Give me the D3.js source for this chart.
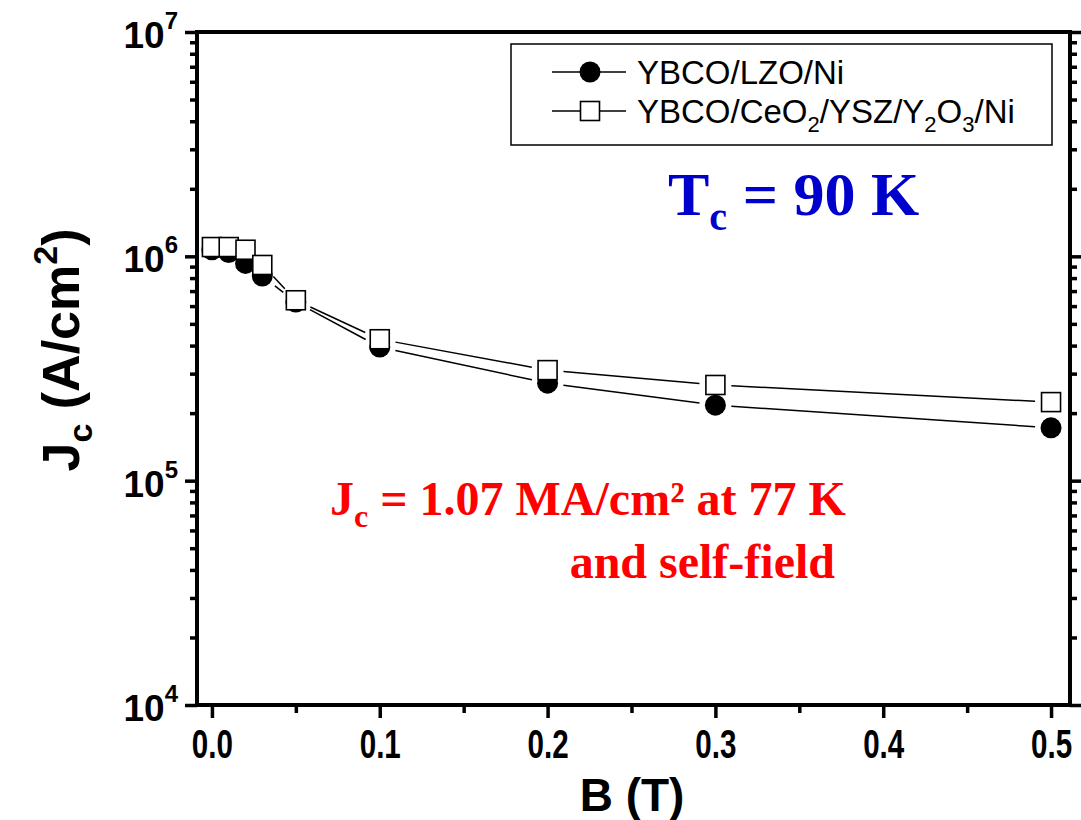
<!DOCTYPE html>
<html>
<head>
<meta charset="utf-8">
<script src="https://cdn.jsdelivr.net/npm/d3@7"></script>
<style>
  html, body { margin: 0; padding: 0; background: #fff; }
  svg { display: block; }
  .sans { font-family: "Liberation Sans", Arial, Helvetica, sans-serif; }
  .serif { font-family: "Liberation Serif", "Times New Roman", Times, serif; }
</style>
</head>
<body>
<svg id="chart" width="1081" height="820"></svg>
<script>
// Magnetic field (T)
const fieldB = [0, 0.01, 0.02, 0.03, 0.05, 0.1, 0.2, 0.3, 0.5];
// Critical current density (A/cm^2)
const jcLZO  = [1.07e6, 1.04e6, 0.93e6, 0.817e6, 0.625e6, 3.94e5, 2.72e5, 2.17e5, 1.72e5];
const jcCeO2 = [1.10e6, 1.10e6, 1.07e6, 0.915e6, 0.637e6, 4.27e5, 3.11e5, 2.67e5, 2.24e5];

const xTicks = [0, 0.1, 0.2, 0.3, 0.4, 0.5];
const xTickLabels = ["0.0", "0.1", "0.2", "0.3", "0.4", "0.5"];
const yTickExp = [4, 5, 6, 7];

const svg = d3.select("#chart");
const frame = { left: 197, right: 1070, top: 32, bottom: 705 };

const x = d3.scaleLinear().domain([-0.0089, 0.5113]).range([frame.left, frame.right]);
const y = d3.scaleLog().domain([1e4, 1e7]).range([frame.bottom, frame.top]);

// minor tick positions
const yMinor = [];
for (let e = 4; e < 7; e++) for (let m = 2; m <= 9; m++) yMinor.push(m * Math.pow(10, e));
const xMinor = [0.05, 0.15, 0.25, 0.35, 0.45];

const axisStroke = 3.5;

function styleAxis(g) {
  g.select(".domain").remove();
  g.selectAll(".tick line").attr("stroke", "#000").attr("stroke-width", axisStroke);
}

// bottom axis: major + minor ticks
const gxMinor = svg.append("g").attr("transform", `translate(0,${frame.bottom})`)
  .call(d3.axisBottom(x).tickValues(xMinor).tickSize(8).tickFormat(""));
styleAxis(gxMinor);
const gx = svg.append("g").attr("transform", `translate(0,${frame.bottom})`)
  .call(d3.axisBottom(x).tickValues(xTicks).tickSize(13).tickPadding(12)
    .tickFormat((d, i) => xTickLabels[i]));
styleAxis(gx);
gx.selectAll(".tick text")
  .attr("class", "sans")
  .attr("font-size", 40).attr("font-weight", "bold").attr("fill", "#000")
  .attr("transform", "scale(0.74,1)");

// left axis
const gyMinor = svg.append("g").attr("transform", `translate(${frame.left},0)`)
  .call(d3.axisLeft(y).tickValues(yMinor).tickSize(7).tickFormat(""));
styleAxis(gyMinor);
const gy = svg.append("g").attr("transform", `translate(${frame.left},0)`)
  .call(d3.axisLeft(y).tickValues(yTickExp.map(e => Math.pow(10, e))).tickSize(12).tickFormat(""));
styleAxis(gy);
gy.selectAll(".tick").each(function (d) {
  const t = d3.select(this).select("text")
    .attr("class", "sans").attr("font-size", 37).attr("font-weight", "bold")
    .attr("fill", "#000").attr("text-anchor", "end").attr("dy", "0.42em")
    .attr("x", -19);
  t.append("tspan").text("10");
  t.append("tspan").attr("font-size", 24).attr("dy", "-0.8em").text(Math.round(Math.log10(d)));
});

// right axis (ticks only)
const gyrMinor = svg.append("g").attr("transform", `translate(${frame.right},0)`)
  .call(d3.axisRight(y).tickValues(yMinor).tickSize(7).tickFormat(""));
styleAxis(gyrMinor);
const gyr = svg.append("g").attr("transform", `translate(${frame.right},0)`)
  .call(d3.axisRight(y).tickValues(yTickExp.map(e => Math.pow(10, e))).tickSize(12).tickFormat(""));
styleAxis(gyr);

// frame
svg.append("rect")
  .attr("x", frame.left).attr("y", frame.top)
  .attr("width", frame.right - frame.left).attr("height", frame.bottom - frame.top)
  .attr("fill", "none").attr("stroke", "#000").attr("stroke-width", 4);

// connecting lines, broken around the symbols
function drawGappedLine(values, gap) {
  const pts = fieldB.map((b, i) => [x(b), y(values[i])]);
  const g = svg.append("g");
  for (let i = 0; i < pts.length - 1; i++) {
    const [x0, y0] = pts[i], [x1, y1] = pts[i + 1];
    const len = Math.hypot(x1 - x0, y1 - y0);
    if (len <= 2 * gap) continue;
    const ux = (x1 - x0) / len, uy = (y1 - y0) / len;
    g.append("line")
      .attr("x1", x0 + ux * gap).attr("y1", y0 + uy * gap)
      .attr("x2", x1 - ux * gap).attr("y2", y1 - uy * gap)
      .attr("stroke", "#000").attr("stroke-width", 1.5);
  }
}
drawGappedLine(jcLZO, 16);
drawGappedLine(jcCeO2, 16);

// symbols
svg.append("g").selectAll("circle").data(fieldB).join("circle")
  .attr("cx", d => x(d)).attr("cy", (d, i) => y(jcLZO[i])).attr("r", 10.5)
  .attr("fill", "#000");
const sq = 19;
svg.append("g").selectAll("rect").data(fieldB).join("rect")
  .attr("x", d => x(d) - sq / 2).attr("y", (d, i) => y(jcCeO2[i]) - sq / 2)
  .attr("width", sq).attr("height", sq)
  .attr("fill", "#fff").attr("stroke", "#000").attr("stroke-width", 1.6);

// legend
const lg = svg.append("g");
lg.append("rect").attr("x", 511).attr("y", 44).attr("width", 541).attr("height", 101)
  .attr("fill", "#fff").attr("stroke", "#000").attr("stroke-width", 1.5);
lg.append("line").attr("x1", 552).attr("x2", 626).attr("y1", 72).attr("y2", 72)
  .attr("stroke", "#000").attr("stroke-width", 1.5);
lg.append("circle").attr("cx", 590).attr("cy", 72).attr("r", 10.5).attr("fill", "#000");
lg.append("line").attr("x1", 552).attr("x2", 626).attr("y1", 111).attr("y2", 111)
  .attr("stroke", "#000").attr("stroke-width", 1.5);
lg.append("rect").attr("x", 590 - sq / 2).attr("y", 111 - sq / 2).attr("width", sq).attr("height", sq)
  .attr("fill", "#fff").attr("stroke", "#000").attr("stroke-width", 1.6);
lg.append("text").attr("class", "sans").attr("x", 637).attr("y", 84)
  .attr("font-size", 33).text("YBCO/LZO/Ni");
const l2 = lg.append("text").attr("class", "sans").attr("x", 637).attr("y", 123).attr("font-size", 33);
const parts2 = [["YBCO/CeO", 0], ["2", 1], ["/YSZ/Y", 0], ["2", 1], ["O", 0], ["3", 1], ["/Ni", 0]];
let sub = false;
parts2.forEach(([s, isSub]) => {
  const ts = l2.append("tspan").text(s);
  if (isSub && !sub) { ts.attr("font-size", 22).attr("dy", 9); sub = true; }
  else if (!isSub && sub) { ts.attr("dy", -9); sub = false; }
  else if (isSub) ts.attr("font-size", 22);
});

// axis titles
svg.append("text").attr("class", "sans").attr("x", 632).attr("y", 811)
  .attr("text-anchor", "middle").attr("font-size", 46).attr("font-weight", "bold").text("B (T)");

const yt = svg.append("text").attr("class", "sans")
  .attr("transform", "translate(79,350) rotate(-90)")
  .attr("text-anchor", "middle").attr("font-size", 52).attr("font-weight", "bold");
yt.append("tspan").text("J");
yt.append("tspan").attr("font-size", 34).attr("dy", 13).text("c");
yt.append("tspan").attr("dy", -13).text(" (A/cm");
yt.append("tspan").attr("font-size", 34).attr("dy", -22).text("2");
yt.append("tspan").attr("dy", 22).text(")");

// annotations
const tc = svg.append("text").attr("class", "serif").attr("x", 668).attr("y", 215)
  .attr("font-size", 62).attr("font-weight", "bold").attr("fill", "#0000cc");
tc.append("tspan").text("T");
tc.append("tspan").attr("font-size", 40).attr("dy", 15).text("c");
tc.append("tspan").attr("dy", -15).text(" = 90 K");

const jc = svg.append("text").attr("class", "serif").attr("x", 330).attr("y", 515)
  .attr("font-size", 48).attr("font-weight", "bold").attr("fill", "#ff0000");
jc.append("tspan").text("J");
jc.append("tspan").attr("font-size", 32).attr("dy", 12).text("c");
jc.append("tspan").attr("dy", -12).text(" = 1.07 MA/cm² at 77 K");
svg.append("text").attr("class", "serif").attr("x", 835).attr("y", 578)
  .attr("text-anchor", "end").attr("font-size", 48).attr("font-weight", "bold")
  .attr("fill", "#ff0000").text("and self-field");
</script>
</body>
</html>
